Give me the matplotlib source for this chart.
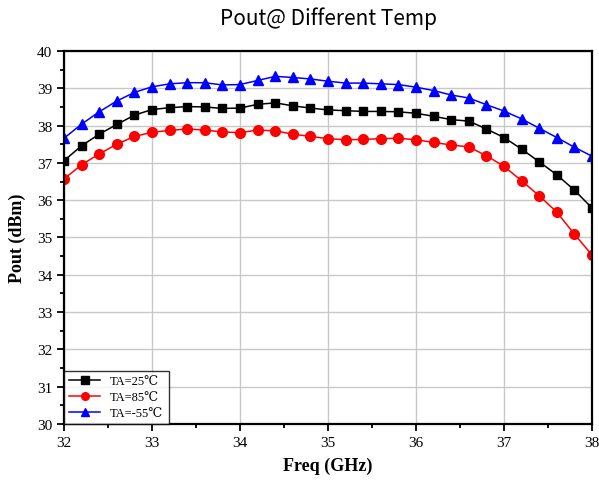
import matplotlib
matplotlib.use("Agg")
import matplotlib.pyplot as plt
from matplotlib.ticker import MultipleLocator

freq = [32.0, 32.2, 32.4, 32.6, 32.8, 33.0, 33.2, 33.4, 33.6, 33.8, 34.0, 34.2, 34.4, 34.6, 34.8,
        35.0, 35.2, 35.4, 35.6, 35.8, 36.0, 36.2, 36.4, 36.6, 36.8, 37.0, 37.2, 37.4, 37.6, 37.8, 38.0]

pout_25 = [37.06, 37.46, 37.77, 38.03, 38.28, 38.43, 38.48, 38.51, 38.50, 38.46, 38.47, 38.57, 38.61, 38.53, 38.47,
           38.42, 38.40, 38.38, 38.38, 38.37, 38.33, 38.25, 38.16, 38.12, 37.91, 37.68, 37.37, 37.03, 36.68, 36.27, 35.79]
pout_85 = [36.57, 36.95, 37.24, 37.50, 37.71, 37.82, 37.87, 37.91, 37.88, 37.83, 37.81, 37.88, 37.86, 37.77, 37.71,
           37.65, 37.62, 37.63, 37.65, 37.66, 37.62, 37.55, 37.48, 37.43, 37.19, 36.91, 36.52, 36.12, 35.68, 35.09, 34.53]
pout_m55 = [37.66, 38.04, 38.37, 38.66, 38.89, 39.04, 39.12, 39.15, 39.15, 39.09, 39.10, 39.21, 39.32, 39.29, 39.25,
            39.19, 39.14, 39.14, 39.12, 39.10, 39.03, 38.94, 38.82, 38.74, 38.56, 38.39, 38.18, 37.93, 37.68, 37.42, 37.18]

labels = ["TA=25\u2103", "TA=85\u2103", "TA=-55\u2103"]

serif = ["Liberation Serif", "DejaVu Serif"]

fig = plt.figure(figsize=(5.99, 4.89), dpi=100)
ax = fig.add_axes([64 / 599, 1 - 425 / 489, 528 / 599, 373 / 489])

ax.plot(freq, pout_25, color="black", marker="s", markersize=6, linewidth=1.1, label=labels[0])
ax.plot(freq, pout_85, color="red", marker="o", markersize=7, linewidth=1.1, label=labels[1])
ax.plot(freq, pout_m55, color="blue", marker="^", markersize=7.5, linewidth=1.1, label=labels[2])

ax.set_xlim(32, 38)
ax.set_ylim(30, 40)
ax.xaxis.set_major_locator(MultipleLocator(1))
ax.xaxis.set_minor_locator(MultipleLocator(0.5))
ax.yaxis.set_major_locator(MultipleLocator(1))
ax.yaxis.set_minor_locator(MultipleLocator(0.5))
ax.tick_params(which="both", direction="out", top=False, right=False, width=1.3)
ax.tick_params(which="major", length=5)
ax.tick_params(which="minor", length=3)
ax.grid(True, which="major", color="#c8c8c8", linewidth=1)
ax.set_axisbelow(True)
for s in ax.spines.values():
    s.set_linewidth(1.6)

for t in ax.get_xticklabels() + ax.get_yticklabels():
    t.set_family(serif)
    t.set_fontsize(11)

ax.set_xlabel("Freq (GHz)", family=serif, fontsize=13, fontweight="bold", labelpad=6)
ax.set_ylabel("Pout (dBm)", family=serif, fontsize=13, fontweight="bold", labelpad=8)

leg = ax.legend(loc="lower left", prop={"family": serif, "size": 9}, frameon=True, fancybox=False,
                edgecolor="black", borderaxespad=0, handlelength=2.5, borderpad=0.4, labelspacing=0.3)
leg.get_frame().set_linewidth(1.0)
for h in leg.legend_handles:
    h.set_markersize(5.5)

fig.suptitle("Pout@ Different Temp", x=(64 + 592) / 2 / 599, y=0.985, fontsize=15,
             family=["Noto Sans CJK SC", "DejaVu Sans"])

fig.savefig("out.png", dpi=100)
